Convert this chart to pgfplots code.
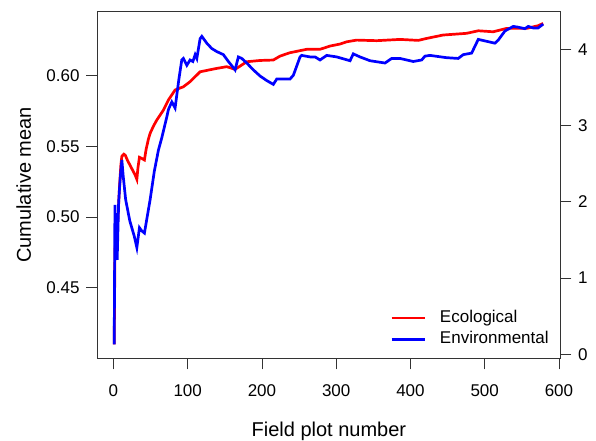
\documentclass[border=0pt]{standalone}
\usepackage{fontspec}
\setmainfont{Liberation Sans}
\usepackage{pgfplots}
\pgfplotsset{compat=1.18}
\pgfkeys{/pgf/number format/assume math mode=true}
\begin{document}
\begin{tikzpicture}
\pgfplotsset{
  every axis/.append style={
    scale only axis, width=462.8bp, height=346.6bp,
    xmin=-21.5, xmax=601.8,
    tick align=outside, major tick length=11bp,
    axis line style={black!80, line width=0.9bp},
    every tick/.style={black!80, line width=0.9bp},
    tick label style={font=\fontsize{17bp}{20bp}\selectfont},
    label style={font=\fontsize{20bp}{24bp}\selectfont},
  }
}
\begin{axis}[
  ymin=0.4001, ymax=0.6453,
  xtick={0,100,...,600},
  ytick={0.45,0.50,0.55,0.60},
  yticklabel={\pgfmathprintnumber[fixed,fixed zerofill,precision=2]{\tick}},
  xtick pos=bottom, ytick pos=left,
  yticklabel style={xshift=-3.5bp},
  xticklabel style={yshift=-12bp},
  xlabel={Field plot number},
  ylabel={Cumulative mean},
  xlabel style={at={(axis description cs:0.5,-0.2262)}, anchor=base},
  ylabel style={at={(axis description cs:-0.1440,0.5)}, anchor=base, rotate=0},
  legend cell align=left,
  legend image code/.code={\draw[#1] (0bp,0bp) -- (33bp,0bp);},
  legend style={draw=none, fill=none, inner sep=0pt,
    at={(rel axis cs:0.6322,0.1410)}, anchor=north west,
    font=\fontsize{17bp}{20bp}\selectfont,
    nodes={inner sep=0pt, text height=12.5bp, text depth=4bp},
    row sep=4.8bp, column sep=14bp},
]
\addplot[red, line width=2.7bp] coordinates {
(1,0.41)(2,0.477)(4,0.488)(6,0.499)(8,0.52)(10,0.537)(11.3,0.543)(14,0.5445)(16,0.5437)
(19,0.540)(22,0.537)(26,0.533)(29,0.530)(31.5,0.5267)(33,0.535)(35,0.5423)(38,0.5415)
(41.7,0.5404)(44,0.548)(47,0.555)(49.4,0.5593)(54,0.5645)(58.4,0.5687)(67.3,0.5757)
(74,0.5828)(83,0.5899)(94.2,0.5922)(103.2,0.5958)(116.7,0.6028)(139.2,0.6052)
(152.6,0.6064)(163.8,0.6045)(179.5,0.6099)(197.4,0.6108)(215.3,0.6111)(224.4,0.6139)
(237.8,0.6163)(260.3,0.6187)(278.2,0.6187)(291.7,0.621)(305.1,0.6224)(314.1,0.624)
(327.6,0.6252)(354.5,0.6248)(385.9,0.6257)(410.5,0.625)(421.8,0.6264)(444.1,0.6288)
(475.6,0.630)(491.3,0.6318)(511.4,0.6311)(529.5,0.6335)(556.4,0.6335)(572,0.6354)(578.7,0.637)
};
\addlegendentry{Ecological}
\addlegendimage{blue, line width=2.7bp}
\addlegendentry{Environmental}
\end{axis}
\begin{axis}[
  ymin=-0.052, ymax=4.493,
  axis y line*=right, axis x line=none,
  ytick={0,1,2,3,4},
  yticklabel style={xshift=3.3bp},
]
\addplot[blue, line width=2.7bp] coordinates {
(1,0.13)(2,1.96)(3,1.45)(4,1.85)(5,1.24)(7,2.0)(9,2.3)(11.3,2.55)(13,2.35)(16.4,2.03)
(22,1.75)(28,1.55)(31.5,1.40)(35,1.66)(38,1.62)(41.7,1.59)(49.4,2.03)(55,2.4)(60.6,2.68)
(65.1,2.84)(72,3.12)(74,3.21)(78.6,3.31)(83,3.23)(88,3.6)(92,3.86)(94.2,3.88)(98.8,3.79)
(103.2,3.86)(106.9,3.84)(110,3.93)(112.3,3.88)(116.7,4.14)(119,4.17)(125.7,4.08)(132.4,4.01)
(139.2,3.97)(148,3.93)(154.8,3.84)(163.8,3.73)(168.2,3.90)(172.8,3.88)(179.5,3.82)(188.4,3.73)
(197.4,3.65)(206.4,3.59)(215.3,3.54)(219.9,3.61)(237.8,3.61)(242.3,3.66)(251.3,3.90)(253.5,3.92)
(264.7,3.90)(271.5,3.90)(278.2,3.86)(287.2,3.92)(300.7,3.90)(318.6,3.85)(323,3.94)(332,3.90)
(345.5,3.85)(365.7,3.82)(374.7,3.88)(385.9,3.88)(403.8,3.84)(415.1,3.86)(419.5,3.91)(426.2,3.92)
(448.7,3.89)(464.3,3.88)(471.1,3.93)(482.4,3.95)(491.3,4.13)(513.7,4.08)(518.2,4.12)(527.2,4.24)
(538.4,4.30)(545.1,4.29)(554.1,4.27)(558.6,4.30)(565.3,4.28)(572,4.28)(578.7,4.33)
};
\end{axis}
\pgfresetboundingbox
\path ([xshift=-97.5bp,yshift=-82.7bp]current axis.south west) rectangle ++(596bp,441bp);
\end{tikzpicture}
\end{document}
